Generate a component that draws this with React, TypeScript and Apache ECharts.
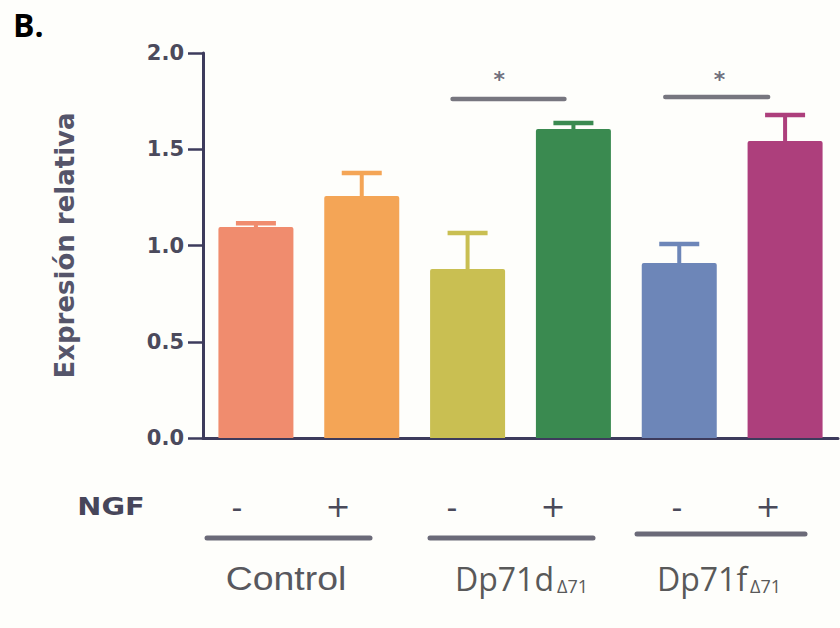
import React, { useEffect, useRef } from "react";
import * as echarts from "echarts";

const categories = ["Control -", "Control +", "Dp71d -", "Dp71d +", "Dp71f -", "Dp71f +"];
const means = [1.096, 1.257, 0.878, 1.605, 0.909, 1.543];
const errors = [0.019, 0.12, 0.187, 0.031, 0.099, 0.135];
const barColors = ["#f08c6e", "#f4a556", "#c9bf52", "#3a8a50", "#6d86b8", "#ad3f7c"];
const yTicks = [0, 0.5, 1.0, 1.5, 2.0];
// significance brackets: [xStart, xEnd, y] in category-index units
const sigLines = [
  [1.858, 2.915, 1.761],
  [3.868, 4.84, 1.771],
];
const sigStars = [
  [2.3, 1.862],
  [4.38, 1.862],
];
const ngfSigns = [
  { t: "-", x: 237 }, { t: "+", x: 338 },
  { t: "-", x: 452 }, { t: "+", x: 553 },
  { t: "-", x: 677 }, { t: "+", x: 768 },
];

export default function App() {
  const ref = useRef<HTMLDivElement>(null);
  useEffect(() => {
    if (!ref.current) return;
    const chart = echarts.init(ref.current, null, { renderer: "svg" });
    const axisColor = "#3d3b5c";
    const labelColor = "#4b4a5c";
    const groupLineColor = "#6b6a78";
    const option: any = {
      animation: false,
      backgroundColor: "#fefefb",
      grid: { left: 203, right: 2, top: 53, bottom: 190 },
      xAxis: [
        {
          type: "category",
          data: categories,
          boundaryGap: true,
          axisLine: { lineStyle: { color: axisColor, width: 3 } },
          axisTick: { alignWithLabel: true, length: 13, lineStyle: { color: axisColor, width: 2.5 } },
          axisLabel: { show: false },
        },
        { type: "value", min: -0.5, max: 5.5, show: false },
      ],
      yAxis: {
        type: "value",
        min: 0,
        max: 2,
        interval: 0.5,
        name: "Expresión relativa",
        nameLocation: "middle",
        nameGap: 125,
        nameTextStyle: { fontFamily: "DejaVu Sans", fontWeight: "bold", fontSize: 26, color: "#55556a" },
        axisLine: { show: true, onZero: false, lineStyle: { color: axisColor, width: 3 } },
        axisTick: { show: true, length: 15, lineStyle: { color: axisColor, width: 2.5 } },
        splitLine: { show: false },
        axisLabel: {
          margin: 19,
          fontFamily: "DejaVu Sans",
          fontWeight: "bold",
          fontSize: 21,
          color: labelColor,
          formatter: (v: number) => (yTicks.includes(v) ? v.toFixed(1) : ""),
        },
      },
      series: [
        {
          type: "bar",
          data: means.map((v, i) => ({ value: v, itemStyle: { color: barColors[i] } })),
          barWidth: 75,
          itemStyle: { borderRadius: [2, 2, 0, 0] },
          z: 2,
        },
        {
          type: "custom",
          data: means.map((m, i) => [i, m, m + errors[i]]),
          z: 1,
          renderItem: (params: any, api: any) => {
            const i = api.value(0);
            const p0 = api.coord([i, api.value(1)]);
            const p1 = api.coord([i, api.value(2)]);
            const c = barColors[params.dataIndex];
            const half = 20;
            return {
              type: "group",
              children: [
                { type: "line", shape: { x1: p0[0], y1: p0[1], x2: p1[0], y2: p1[1] }, style: { stroke: c, lineWidth: 4 } },
                { type: "line", shape: { x1: p1[0] - half, y1: p1[1], x2: p1[0] + half, y2: p1[1] }, style: { stroke: c, lineWidth: 4.5 } },
              ],
            };
          },
        },
        ...sigLines.map((s) => ({
          type: "line",
          xAxisIndex: 1,
          data: [[s[0], s[2]], [s[1], s[2]]],
          symbol: "none",
          lineStyle: { color: "#77767f", width: 4.5, cap: "round" },
          z: 3,
        })),
        {
          type: "scatter",
          xAxisIndex: 1,
          data: sigStars,
          symbolSize: 0,
          label: {
            show: true,
            position: "inside",
            formatter: "*",
            fontFamily: "DejaVu Sans",
            fontWeight: "bold",
            fontSize: 22,
            color: "#4a4a5c",
          },
        },
      ],
      graphic: [
        {
          type: "text",
          x: 13,
          y: 24,
          style: { text: "B.", fontFamily: "Open Sans", fontWeight: "bold", fontSize: 32, fill: "#000", verticalAlign: "middle", align: "left" },
        },
        {
          type: "text",
          x: 111,
          y: 506,
          scaleX: 1.2,
          style: { text: "NGF", fontFamily: "DejaVu Sans", fontWeight: "bold", fontSize: 24, fill: "#47465a", align: "center", verticalAlign: "middle" },
        },
        ...ngfSigns.map((s) => ({
          type: "text",
          x: s.x,
          y: s.t === "-" ? 507 : 506,
          style: { text: s.t, fontFamily: "DejaVu Sans", fontSize: 30, fill: "#4a4a5a", align: "center", verticalAlign: "middle" },
        })),
        { type: "line", shape: { x1: 207, y1: 538, x2: 370, y2: 538 }, style: { stroke: groupLineColor, lineWidth: 5, lineCap: "round" } },
        { type: "line", shape: { x1: 430, y1: 538, x2: 593, y2: 538 }, style: { stroke: groupLineColor, lineWidth: 5, lineCap: "round" } },
        { type: "line", shape: { x1: 637, y1: 534, x2: 805, y2: 534 }, style: { stroke: groupLineColor, lineWidth: 5, lineCap: "round" } },
        {
          type: "text",
          x: 286,
          y: 579,
          scaleX: 1.1,
          style: { text: "Control", fontFamily: "Liberation Sans", fontSize: 34, fill: "#58585e", align: "center", verticalAlign: "middle" },
        },
        {
          type: "text",
          x: 455,
          y: 578,
          style: { text: "Dp71d", fontFamily: "Open Sans", fontSize: 32, fill: "#595959", align: "left", verticalAlign: "middle" },
        },
        {
          type: "text",
          x: 557,
          y: 586,
          style: { text: "Δ71", fontFamily: "Open Sans", fontSize: 18, fill: "#595959", align: "left", verticalAlign: "middle" },
        },
        {
          type: "text",
          x: 657,
          y: 578,
          style: { text: "Dp71f", fontFamily: "Open Sans", fontSize: 32, fill: "#595959", align: "left", verticalAlign: "middle" },
        },
        {
          type: "text",
          x: 750,
          y: 586,
          style: { text: "Δ71", fontFamily: "Open Sans", fontSize: 18, fill: "#595959", align: "left", verticalAlign: "middle" },
        },
      ],
    };
    chart.setOption(option);
    return () => chart.dispose();
  }, []);
  return <div ref={ref} style={{ width: 840, height: 628, position: "absolute", left: 0, top: 0 }} />;
}
